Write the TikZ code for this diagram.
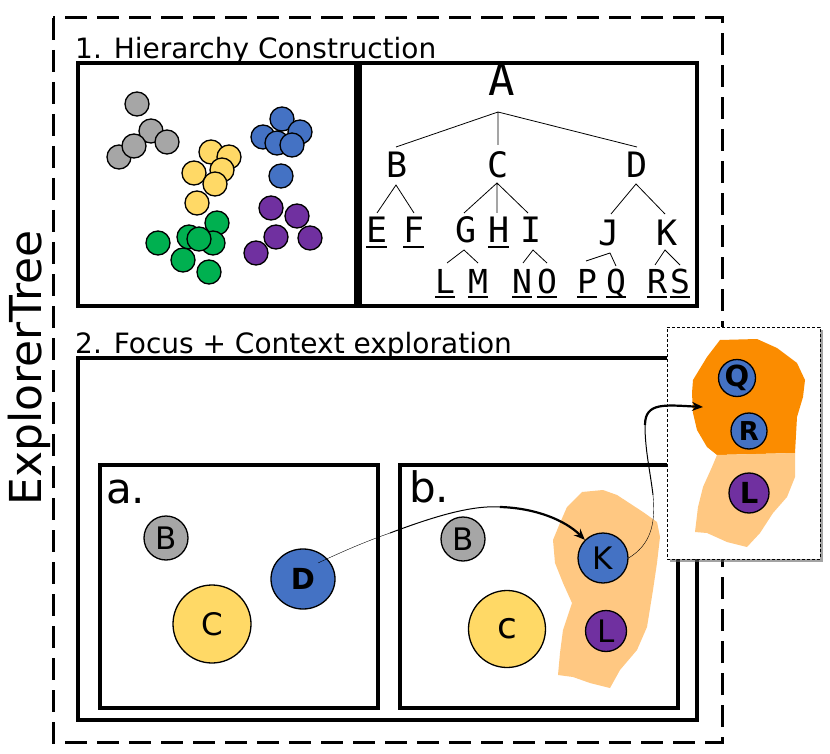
\documentclass[tikz,border=0pt]{standalone}
\usepackage{fontspec}
\setmainfont{DejaVu Sans}
\newfontfamily\treemono{DejaVu Sans Mono}
\usetikzlibrary{arrows.meta,shadows,shapes.geometric}
\definecolor{cgray}{HTML}{A6A6A6}
\definecolor{cyel}{HTML}{FFD966}
\definecolor{cblue}{HTML}{4472C4}
\definecolor{cpur}{HTML}{7030A0}
\definecolor{cgreen}{HTML}{00B050}
\definecolor{corL}{HTML}{FFC882}
\definecolor{corD}{HTML}{FB8C00}
\newcommand\ulet[1]{\rlap{\rule[-5pt]{0.6em}{2pt}}#1}
\tikzset{
  frame/.style={draw=black, line width=3.2pt},
  dot/.style={circle, draw=black, line width=1.3pt, minimum size=24pt, inner sep=0pt},
  bigdot/.style={circle, draw=black, line width=1.3pt, inner sep=0pt, font=\fontsize{31}{33}\selectfont},
  tA/.style={inner sep=0pt, anchor=base, font=\treemono\fontsize{44}{46}\selectfont},
  tL/.style={inner sep=0pt, anchor=base, font=\treemono\fontsize{35}{37}\selectfont},
  tS/.style={inner sep=0pt, anchor=base, font=\treemono\fontsize{33}{35}\selectfont},
  tline/.style={draw=black, line width=0.8pt},
  title/.style={inner sep=0pt, anchor=base west, font=\fontsize{28}{30}\selectfont},
  panel/.style={inner sep=0pt, anchor=base west, font=\fontsize{42}{44}\selectfont},
}
\begin{document}
\begin{tikzpicture}[x=1pt,y=-1pt]
\useasboundingbox[fill=white] (0,0) rectangle (830,754);

% outer dashed frame
\draw[line width=3pt, dash pattern=on 22pt off 10pt] (53,18) rectangle (722,742);
\node[rotate=90, inner sep=0pt, font=\fontsize{44}{46}\selectfont] (expl) at (29,368) {ExplorerTree};

% section 1
\node[title] (t1) at (75,59) {1. Hierarchy Construction};
\draw[frame] (78,63) rectangle (356,306);
\draw[frame] (360,63) rectangle (697,306);

% scatter: gray
\node[dot, fill=cgray] (g1) at (137,104) {};
\node[dot, fill=cgray] (g5) at (119,157) {};
\node[dot, fill=cgray] (g2) at (151,131) {};
\node[dot, fill=cgray] (g3) at (167,142) {};
\node[dot, fill=cgray] (g4) at (134,146) {};
% yellow
\node[dot, fill=cyel] (y1) at (211,152) {};
\node[dot, fill=cyel] (y2) at (229,157) {};
\node[dot, fill=cyel] (y3) at (222,170) {};
\node[dot, fill=cyel] (y4) at (194,173) {};
\node[dot, fill=cyel] (y5) at (215,184) {};
\node[dot, fill=cyel] (y6) at (197,203) {};
% blue
\node[dot, fill=cblue] (b1) at (282,119) {};
\node[dot, fill=cblue] (b2) at (300,132) {};
\node[dot, fill=cblue] (b3) at (263,137) {};
\node[dot, fill=cblue] (b4) at (277,143) {};
\node[dot, fill=cblue] (b5) at (292,145) {};
\node[dot, fill=cblue] (b6) at (281,176) {};
% purple
\node[dot, fill=cpur] (p1) at (271,208) {};
\node[dot, fill=cpur] (p2) at (297,216) {};
\node[dot, fill=cpur] (p3) at (276,237) {};
\node[dot, fill=cpur] (p4) at (310,238) {};
\node[dot, fill=cpur] (p5) at (256,253) {};
% green
\node[dot, fill=cgreen] (n1) at (217,223) {};
\node[dot, fill=cgreen] (n2) at (158,243) {};
\node[dot, fill=cgreen] (n3) at (189,237) {};
\node[dot, fill=cgreen] (n4) at (213,243) {};
\node[dot, fill=cgreen] (n5) at (199,239) {};
\node[dot, fill=cgreen] (n6) at (183,260) {};
\node[dot, fill=cgreen] (n7) at (209,272) {};

% tree
\node[tA] (A) at (502,96) {A};
\node[tL] (B) at (397,178) {B};
\node[tL] (C) at (498,178) {C};
\node[tL] (D) at (637,178) {D};
\node[tL] (E) at (377,243) {\ulet{E}};
\node[tL] (F) at (414,243) {\ulet{F}};
\node[tL] (G) at (466,243) {G};
\node[tL] (H) at (499,243) {\ulet{H}};
\node[tL] (I) at (531,243) {I};
\node[tL] (J) at (609,245) {J};
\node[tL] (K) at (667,245) {K};
\node[tS] (L) at (445,293) {\ulet{L}};
\node[tS] (M) at (478,293) {\ulet{M}};
\node[tS] (N) at (522,293) {\ulet{N}};
\node[tS] (O) at (547,293) {\ulet{O}};
\node[tS] (P) at (587,293) {\ulet{P}};
\node[tS] (Q) at (616,293) {\ulet{Q}};
\node[tS] (R) at (657,293) {\ulet{R}};
\node[tS] (S) at (680,293) {\ulet{S}};

\coordinate (Ab) at (498,112);
\coordinate (Bt) at (396,147); \coordinate (Ct) at (498,145); \coordinate (Dt) at (637,147);
\coordinate (Bb) at (396,185); \coordinate (Et) at (377,213); \coordinate (Ft) at (414,213);
\coordinate (Cb) at (497,183); \coordinate (Gt) at (464,213); \coordinate (Ht) at (497,213); \coordinate (It) at (528,213);
\coordinate (Db) at (636,184); \coordinate (Jt) at (611,214); \coordinate (Kt) at (665,214);
\coordinate (Gb) at (464,250); \coordinate (Lt) at (447,263); \coordinate (Mt) at (478,263);
\coordinate (Ib) at (533,250); \coordinate (Nt) at (523,263); \coordinate (Ot) at (547,263);
\coordinate (Jb) at (610,253); \coordinate (Pt) at (586,261); \coordinate (Qt) at (616,266);
\coordinate (Kb) at (665,250); \coordinate (Rt) at (655,265); \coordinate (St) at (680,265);
\draw[tline] (Bt) -- (Ab) -- (Dt) (Ab) -- (Ct);
\draw[tline] (Et) -- (Bb) -- (Ft);
\draw[tline] (Gt) -- (Cb) -- (It) (Cb) -- (Ht);
\draw[tline] (Jt) -- (Db) -- (Kt);
\draw[tline] (Lt) -- (Gb) -- (Mt);
\draw[tline] (Nt) -- (Ib) -- (Ot);
\draw[tline] (Pt) -- (Jb) -- (Qt);
\draw[tline] (Rt) -- (Kb) -- (St);

% section 2
\node[title] (t2) at (75,353) {2. Focus + Context exploration};
\draw[frame] (78,358) rectangle (697,720);
\draw[frame] (100,465) rectangle (378,708);
\draw[frame] (400,465) rectangle (678,708);
\node[panel] (pa) at (106,503) {a.};
\node[panel] (pb) at (409,502) {b.};

% panel a
\node[bigdot, fill=cgray, minimum size=44pt] (aB) at (166,538) {B};
\node[bigdot, fill=cyel, minimum size=78pt] (aC) at (212,624) {C};
\node[ellipse, draw=black, line width=1.3pt, inner sep=0pt, minimum width=64pt, minimum height=60pt, fill=cblue, font=\bfseries\fontsize{29}{31}\selectfont] (aD) at (303,579) {D};

% panel b
\fill[corL] (582,492) -- (603,490) -- (617,495) -- (643,512) -- (657,522) -- (660,537) -- (657,563) -- (653,590) -- (647,627) -- (637,650) -- (620,670) -- (610,688) -- (590,683) -- (573,677) -- (558,675) -- (560,653) -- (563,630) -- (572,603) -- (563,583) -- (555,563) -- (553,540) -- (560,523) -- (567,507) -- cycle;
\node[bigdot, fill=cgray, minimum size=44pt] (bB) at (463,539) {B};
\node[bigdot, fill=cyel, minimum size=77pt, font=\fontsize{36}{38}\selectfont] (bC) at (507,629) {c};
\node[bigdot, fill=cblue, minimum size=50pt] (bK) at (603,558) {K};
\node[bigdot, fill=cpur, minimum size=41pt] (bL) at (606,631) {L};

% arrow D -> K (tapered)
\coordinate (d1) at (390,533);
\coordinate (d2) at (500,507);
\draw[line width=0.4pt] ([xshift=15pt,yshift=16pt]aD.center) .. controls (350,548) and (370,540) .. (d1);
\draw[line width=1pt] (d1) .. controls (430,518) and (470,505) .. (d2);
\draw[line width=2.2pt, -{Stealth[length=11pt,width=9pt]}] (d2) .. controls (535,508) and (565,520) .. (bK.north west);

% inset
\node[draw=black, densely dashed, line width=0.8pt, fill=white, inner sep=0pt, minimum width=153pt, minimum height=232pt, drop shadow={shadow xshift=2.5pt, shadow yshift=-2.5pt, fill=black!60, opacity=0.6}] (inset) at (743.5,443) {};
\fill[corD] (720,340) -- (757,339) -- (777,348) -- (797,363) -- (805,380) -- (803,397) -- (797,417) -- (795,453) -- (717,455) -- (707,447) -- (697,430) -- (693,413) -- (692,393) -- (693,380) -- (707,357) -- cycle;
\fill[corL] (717,455) -- (795,453) -- (795,477) -- (787,497) -- (773,513) -- (760,533) -- (747,547) -- (727,542) -- (707,533) -- (695,532) -- (698,507) -- (703,487) -- (712,467) -- cycle;
\node[bigdot, fill=cblue, minimum size=37pt, font=\bfseries\fontsize{29}{31}\selectfont] (iQ) at (737,378) {Q};
\node[bigdot, fill=cblue, minimum size=36pt, font=\bfseries\fontsize{26}{28}\selectfont] (iR) at (749,431) {R};
\node[bigdot, fill=cpur, minimum size=40pt, font=\bfseries\fontsize{29}{31}\selectfont] (iL) at (749,493) {L};

% arrow K -> inset (tapered)
\coordinate (k1) at (653,495);
\coordinate (k2) at (645,425);
\coordinate (k3) at (703,407);
\draw[line width=0.4pt] (bK.east) .. controls (650,545) and (656,525) .. (k1);
\draw[line width=1pt] (k1) .. controls (650,470) and (645,450) .. (k2);
\draw[line width=2.2pt, -{Stealth[length=11pt,width=9pt]}] (k2) .. controls (645,402) and (665,405) .. (k3);
\end{tikzpicture}
\end{document}
